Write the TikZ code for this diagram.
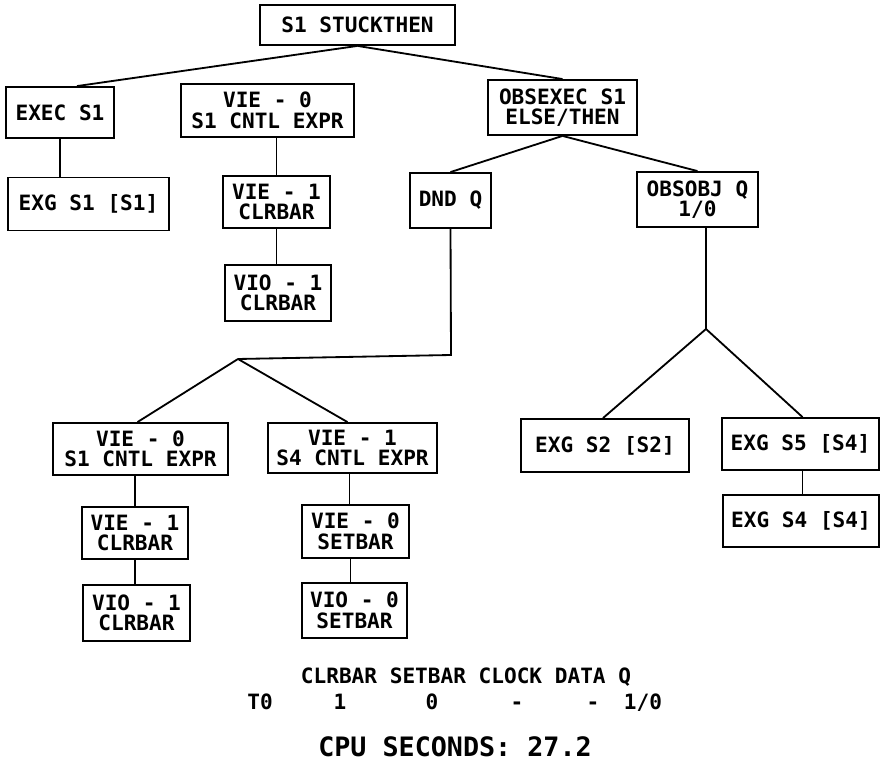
\documentclass[tikz,border=0pt]{standalone}
\usepackage{fontspec}
\setmonofont{DejaVu Sans Mono}
\usetikzlibrary{calc}

\begin{document}
\begin{tikzpicture}[x=0.025cm,y=-0.025cm,line width=1.3pt]
\tikzstyle{block}=[draw, line width=1.3pt, rectangle, align=center, inner sep=0pt, minimum height=53*0.25mm, font=\ttfamily\bfseries\fontsize{15}{14.5}\selectfont]
\tikzstyle{lbl}=[inner sep=0pt, anchor=base, font=\ttfamily\bfseries\fontsize{15}{14.5}\selectfont]
\useasboundingbox (0,0) rectangle (881,766);

% root
\node[block, minimum width=195*0.25mm, minimum height=40*0.25mm] (root) at (357.5,25) {S1 STUCKTHEN};

% second level
\node[block, minimum width=108*0.25mm, minimum height=51*0.25mm] (exec) at (60,112.5) {EXEC S1};
\node[block, minimum width=161*0.25mm] (exgsa) at (88.5,204) {EXG S1 [S1]};
\node[block, minimum width=173*0.25mm] (viea) at (267.5,110.5) {VIE - 0\\S1 CNTL EXPR};
\node[block, minimum width=107*0.25mm, minimum height=52*0.25mm] (vieb) at (276.5,202) {VIE - 1\\CLRBAR};
\node[block, minimum width=106*0.25mm, minimum height=56*0.25mm] (vioa) at (278,293) {VIO - 1\\CLRBAR};
\node[block, minimum width=149*0.25mm, minimum height=55*0.25mm] (obsexec) at (562.5,107.5) {OBSEXEC S1\\ELSE/THEN};

% third level
\node[block, minimum width=81*0.25mm, minimum height=55*0.25mm] (dnd) at (450.5,200.5) {DND Q};
\node[block, minimum width=121*0.25mm, minimum height=55*0.25mm] (obsobj) at (697.5,199.5) {OBSOBJ Q\\1/0};

% under DND Q
\node[block, minimum width=175*0.25mm, minimum height=52*0.25mm] (viec) at (140.5,449) {VIE - 0\\S1 CNTL EXPR};
\node[block, minimum width=169*0.25mm, minimum height=50*0.25mm] (vied) at (352.5,448) {VIE - 1\\S4 CNTL EXPR};
\node[block, minimum width=106*0.25mm, minimum height=52*0.25mm] (viee) at (135,533) {VIE - 1\\CLRBAR};
\node[block, minimum width=107*0.25mm] (vief) at (355.5,531.5) {VIE - 0\\SETBAR};
\node[block, minimum width=107*0.25mm, minimum height=56*0.25mm] (viob) at (136.5,613) {VIO - 1\\CLRBAR};
\node[block, minimum width=105*0.25mm, minimum height=55*0.25mm] (vioc) at (354.5,610.5) {VIO - 0\\SETBAR};

% under OBSOBJ Q
\node[block, minimum width=168*0.25mm] (exgsb) at (605,445.5) {EXG S2 [S2]};
\node[block, minimum width=157*0.25mm, minimum height=52*0.25mm] (exgsc) at (800.5,444) {EXG S5 [S4]};
\node[block, minimum width=156*0.25mm, minimum height=52*0.25mm] (exgsd) at (801,521) {EXG S4 [S4]};

% branch points
\coordinate (bendq) at (451,355);
\coordinate (forkq) at (238,359);
\coordinate (forko) at (706,329);

% connectors
\draw (root.south) -- ($(exec.north)+(17,0)$);
\draw (root.south) -- (obsexec.north);
\draw (exec.south) -- (exec.south |- exgsa.north);
\draw (vieb.north |- viea.south) -- (vieb.north);
\draw (vieb.south) -- (vieb.south |- vioa.north);
\draw (obsexec.south) -- (dnd.north);
\draw (obsexec.south) -- (obsobj.north);
\draw (dnd.south) -- (bendq) -- (forkq);
\draw (forkq) -- ($(viec.north)+(-3,0)$);
\draw (forkq) -- ($(vied.north)+(-5,0)$);
\draw (viee.north |- viec.south) -- (viee.north);
\draw (viee.south) -- (viee.south |- viob.north);
\draw ($(vied.south)+(-3,0)$) -- ($(vied.south |- vief.north)+(-3,0)$);
\draw ($(vief.south)+(-5,0)$) -- ($(vief.south |- vioc.north)+(-5,0)$);
\draw (obsobj.south -| forko) -- (forko);
\draw (forko) -- ($(exgsb.north)+(-2,0)$);
\draw (forko) -- ($(exgsc.north)+(2,0)$);
\draw ($(exgsc.south)+(2,0)$) -- ($(exgsc.south |- exgsd.north)+(2,0)$);

% table
\node[lbl] (hdr) at (466,683) {CLRBAR SETBAR CLOCK DATA Q};
\node[lbl] (tz) at (260,709) {T0};
\node[lbl] (tclr) at (340,709) {1};
\node[lbl] (tset) at (432,709) {0};
\node[lbl] (tclk) at (517,709) {-};
\node[lbl] (tdat) at (593,709) {-};
\node[lbl] (tq) at (643,709) {1/0};
\node[lbl, font=\ttfamily\bfseries\fontsize{19}{20}\selectfont] (cpu) at (455,756) {CPU SECONDS: 27.2};

\end{tikzpicture}
\end{document}
